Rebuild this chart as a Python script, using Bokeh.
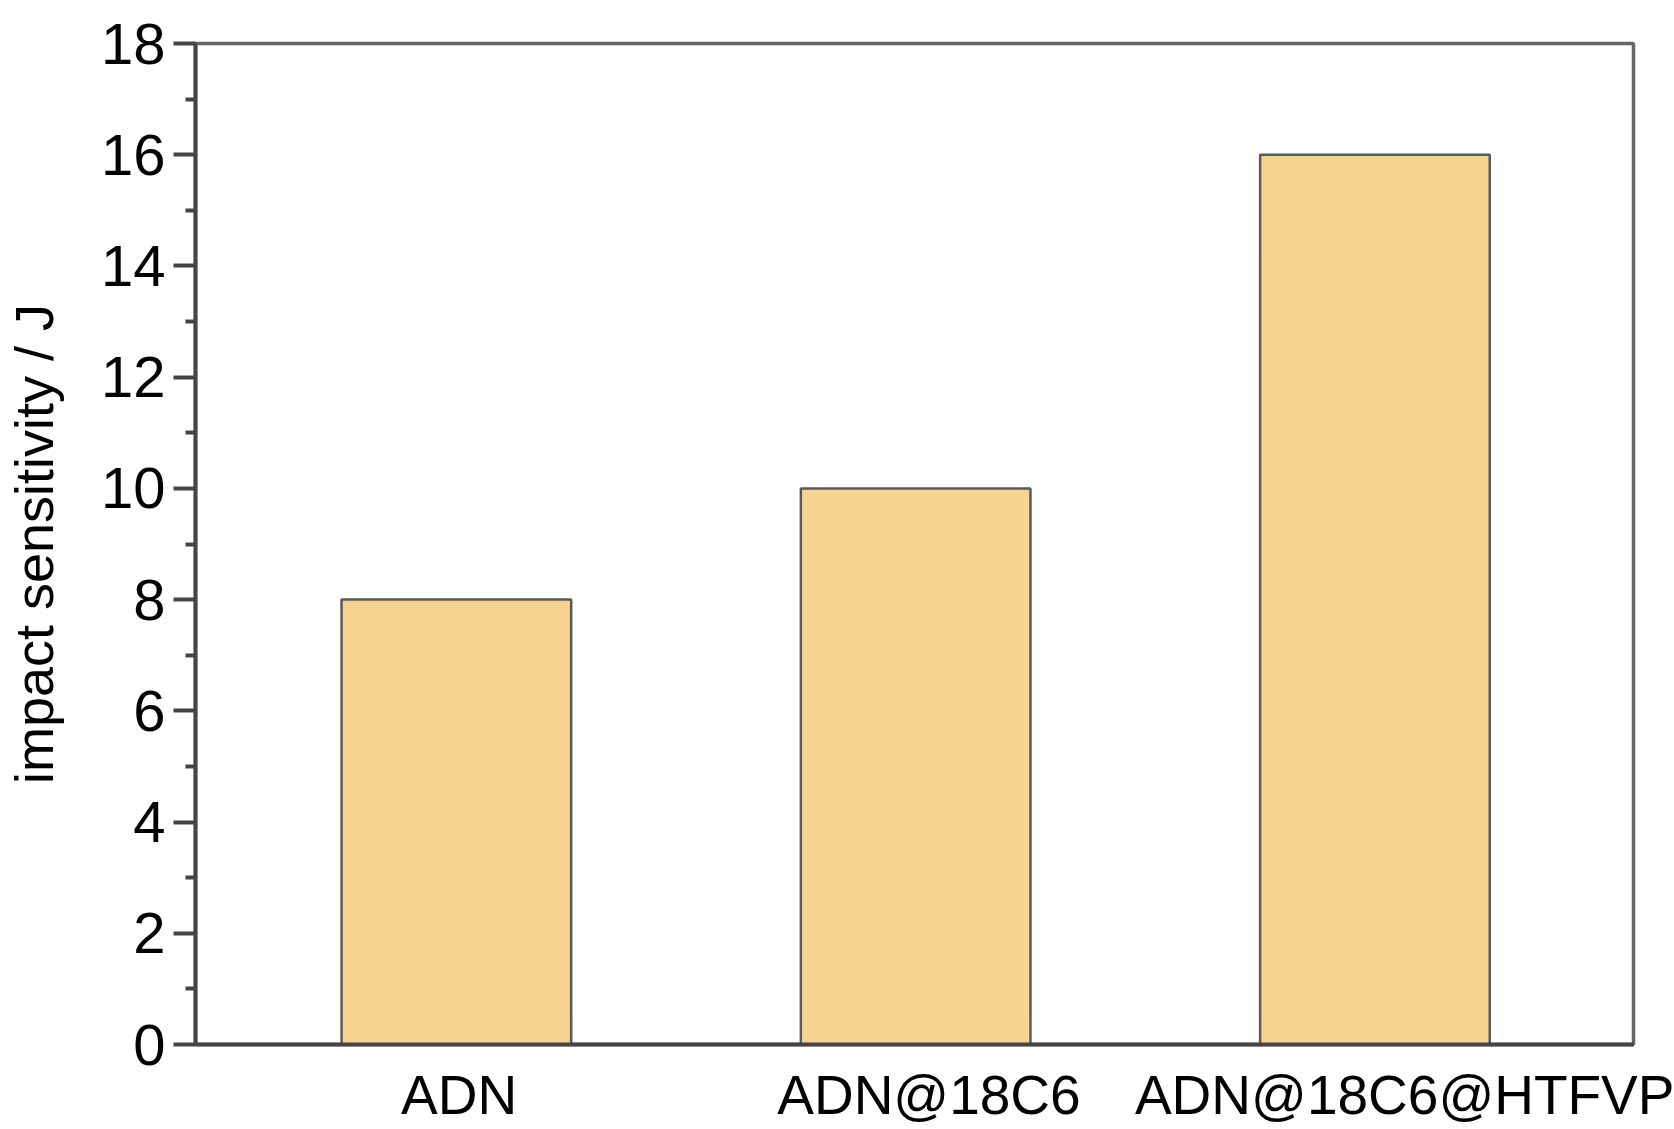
from bokeh.plotting import figure
from bokeh.models import Range1d, ColumnDataSource, FixedTicker
from bokeh.embed import file_html
from bokeh.resources import INLINE

categories = ["ADN", "ADN@18C6", "ADN@18C6@HTFVP"]
impact_sensitivity = [8, 10, 16]
y_ticks = [0, 2, 4, 6, 8, 10, 12, 14, 16, 18]
y_minor_ticks = [1, 3, 5, 7, 9, 11, 13, 15, 17]
y_label = "impact sensitivity / J"

# bar slots are the category indices; small nudges of the category labels
positions = list(range(len(categories)))
label_nudge = [0.006, 0.029, 0.067]
label_pos = [i + d for i, d in zip(positions, label_nudge)]

source = ColumnDataSource(data=dict(pos=positions, cat=categories, val=impact_sensitivity))

p = figure(
    x_range=Range1d(-0.568, 2.563),
    y_range=Range1d(0, 18),
    width=1674, height=1129,
    output_backend="svg", toolbar_location=None,
    min_border_left=195, min_border_right=41, min_border_top=43, min_border_bottom=85,
)

p.vbar(x="pos", top="val", bottom=0, width=0.5, source=source,
       fill_color="#F5D491", line_color="#5a5a5a", line_width=2.5)

p.xgrid.visible = False
p.ygrid.visible = False
p.outline_line_color = "#666666"
p.outline_line_width = 3.5
p.outline_line_alpha = 1.0
p.background_fill_color = "white"
p.border_fill_color = "white"

font = "Liberation Sans"

yax = p.yaxis[0]
yax.ticker = FixedTicker(ticks=y_ticks, minor_ticks=y_minor_ticks)
yax.axis_line_color = "#444444"
yax.axis_line_width = 4
yax.major_tick_line_color = "#444444"
yax.major_tick_line_width = 4
yax.minor_tick_line_color = "#444444"
yax.minor_tick_line_width = 4
yax.major_tick_in = 0
yax.major_tick_out = 22
yax.minor_tick_in = 0
yax.minor_tick_out = 10
yax.major_label_text_font = font
yax.major_label_text_font_size = "58px"
yax.major_label_text_color = "black"
yax.major_label_standoff = 8
yax.axis_label = y_label
yax.axis_label_text_font = font
yax.axis_label_text_font_size = "54px"
yax.axis_label_text_font_style = "normal"
yax.axis_label_text_color = "black"
yax.axis_label_standoff = 34

xax = p.xaxis[0]
xax.ticker = FixedTicker(ticks=label_pos, minor_ticks=[])
xax.major_label_overrides = {t: c for t, c in zip(label_pos, categories)}
xax.axis_line_color = "#444444"
xax.axis_line_width = 4
xax.major_tick_in = 0
xax.major_tick_out = 0
xax.minor_tick_in = 0
xax.minor_tick_out = 0
xax.major_tick_line_color = None
xax.minor_tick_line_color = None
xax.major_label_text_font = font
xax.major_label_text_font_size = "55px"
xax.major_label_text_color = "black"
xax.major_label_standoff = 19

open("out.html", "w").write(file_html(p, INLINE))
